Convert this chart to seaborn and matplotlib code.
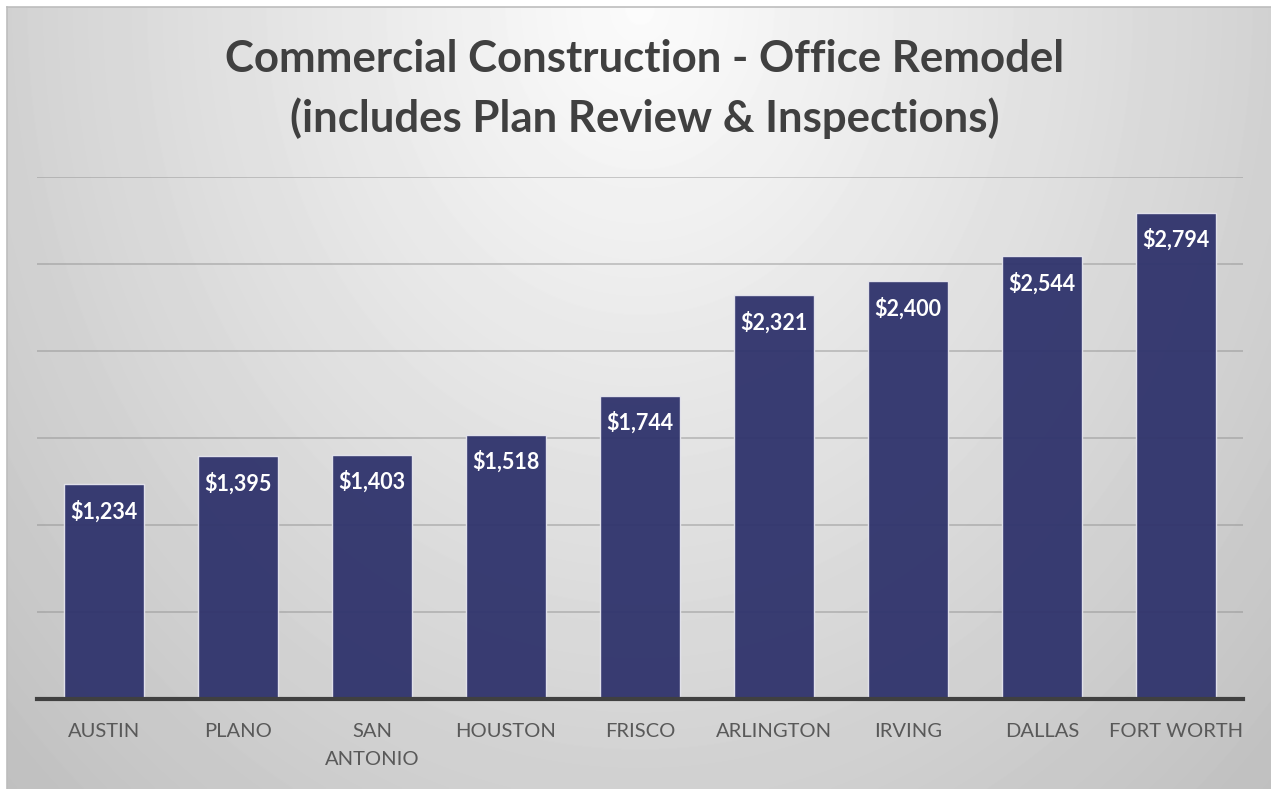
import numpy as np
import pandas as pd
import matplotlib
matplotlib.use("Agg")
import matplotlib.pyplot as plt
import seaborn as sns

cities = ["AUSTIN", "PLANO", "SAN\nANTONIO", "HOUSTON", "FRISCO",
          "ARLINGTON", "IRVING", "DALLAS", "FORT WORTH"]
costs = [1234, 1395, 1403, 1518, 1744, 2321, 2400, 2544, 2794]
title = "Commercial Construction - Office Remodel\n(includes Plan Review & Inspections)"

sns.set_theme(style="white")
plt.rcParams["font.family"] = ["Lato", "DejaVu Sans"]

W, H = 1271, 789
fig = plt.figure(figsize=(W / 100, H / 100), dpi=100)
fig.patch.set_facecolor("white")

# background gradient panel
bx0, by1 = 7, 7
bg = fig.add_axes([bx0 / W, 0, 1 - bx0 / W, 1 - by1 / H])
yy, xx = np.mgrid[0:H - by1, 0:W - bx0]
cx, cy = 640 - bx0, 0
r = np.sqrt(((xx - cx) / 660.0) ** 2 + ((yy - cy) / 800.0) ** 2)
val = np.clip(252 - 44 * np.minimum(r, 1.45), 0, 255) / 255.0
bg.imshow(val, cmap="gray", vmin=0, vmax=1, aspect="auto", interpolation="bilinear")
bg.set_xticks([]); bg.set_yticks([])
for s in ["right", "bottom"]:
    bg.spines[s].set_visible(False)
for s in ["top", "left"]:
    bg.spines[s].set_color("#bdbdbd")
    bg.spines[s].set_linewidth(1.2)

ax = fig.add_axes([37 / W, 1 - 699 / H, (1243 - 37) / W, (699 - 177) / H])
ax.set_facecolor("none")
df = pd.DataFrame({"city": cities, "cost": costs})
sns.barplot(data=df, x="city", y="cost", ax=ax, color="#2f336c", width=0.6,
            edgecolor="#e6e6ee", linewidth=1.0, saturation=1, alpha=0.95, zorder=3)
ax.set_ylim(0, 3000)
ax.set_xlim(-0.5, len(cities) - 0.5)
ax.set_yticks(np.arange(0, 3001, 500))
ax.yaxis.grid(True, color="#8c8c8c", linewidth=1.1, alpha=0.55, zorder=1)
ax.set_axisbelow(True)
ax.set_yticklabels([])
ax.tick_params(axis="y", length=0)
ax.tick_params(axis="x", length=0, pad=17.5, labelsize=14.5, labelcolor="#595959")
for lbl in ax.get_xticklabels():
    lbl.set_linespacing(1.75)
ax.set_xlabel(""); ax.set_ylabel("")
for s in ["top", "right", "left"]:
    ax.spines[s].set_visible(False)
ax.spines["bottom"].set_color("#404040")
ax.spines["bottom"].set_linewidth(3)
ax.spines["bottom"].set_zorder(5)

for i, v in enumerate(costs):
    ax.annotate(f"${v:,}", (i, v), xytext=(0, -19.5), textcoords="offset points",
                ha="center", va="center", color="white", fontsize=15.5,
                fontweight="bold", zorder=6)

fig.text(645 / W, 1 - 89 / H, title, ha="center", va="center", fontsize=31.5,
         fontweight="bold", color="#404040", linespacing=1.55)

fig.savefig("out.png", dpi=100)
